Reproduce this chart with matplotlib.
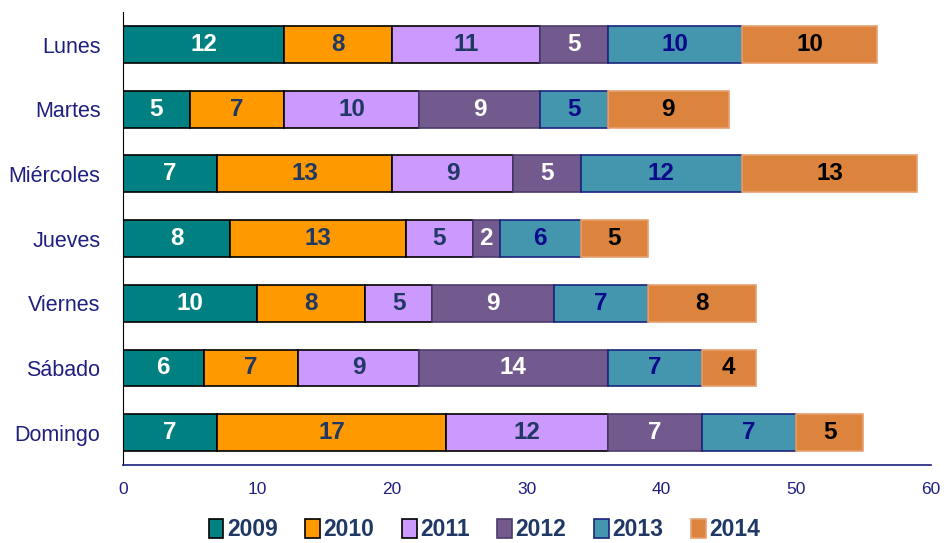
import matplotlib
matplotlib.use("Agg")
import matplotlib.pyplot as plt
import numpy as np

days = ["Lunes", "Martes", "Miércoles", "Jueves", "Viernes", "Sábado", "Domingo"]
years = ["2009", "2010", "2011", "2012", "2013", "2014"]
v2009 = [12, 5, 7, 8, 10, 6, 7]
v2010 = [8, 7, 13, 13, 8, 7, 17]
v2011 = [11, 10, 9, 5, 5, 9, 12]
v2012 = [5, 9, 5, 2, 9, 14, 7]
v2013 = [10, 5, 12, 6, 7, 7, 7]
v2014 = [10, 9, 13, 5, 8, 4, 5]

series = [v2009, v2010, v2011, v2012, v2013, v2014]
colors = ["#008080", "#FF9900", "#CC99FF", "#725A8E", "#4496AF", "#DC843E"]
edges = ["black", "black", "black", "#4B3B6B", "#1A237E", "#E8A070"]
txt_colors = ["white", "#1F3864", "#1F3864", "white", "#0A0A8A", "black"]

navy = "#1F1F80"
plt.rcParams["font.family"] = ["Liberation Sans", "DejaVu Sans"]

fig = plt.figure(figsize=(9.44, 5.43), dpi=100)
ax = fig.add_axes([0.130, 0.1436, 0.856, 0.834])

y = np.arange(len(days))
left = np.zeros(len(days))
for vals, yr, c, ec, tc in zip(series, years, colors, edges, txt_colors):
    bars = ax.barh(y, vals, left=left, height=0.57, color=c, edgecolor=ec,
                   linewidth=1.2, label=yr)
    for b, v in zip(bars, vals):
        ax.text(b.get_x() + b.get_width() / 2, b.get_y() + b.get_height() / 2,
                str(v), ha="center", va="center", color=tc,
                fontsize=17.5, fontweight="bold")
    left += np.array(vals)

ax.set_xlim(0, 60)
ax.set_ylim(6.5, -0.5)
ax.set_yticks(y)
ax.set_yticklabels(days, fontsize=15.5, color=navy)
ax.set_xticks(range(0, 61, 10))
ax.set_xticklabels([str(t) for t in range(0, 61, 10)], fontsize=12.5, color=navy)
ax.tick_params(axis="both", length=0)
ax.tick_params(axis="x", pad=12)
ax.tick_params(axis="y", pad=16)
ax.spines["top"].set_visible(False)
ax.spines["right"].set_visible(False)
ax.spines["left"].set_color("black")
ax.spines["bottom"].set_color(navy)
ax.spines["bottom"].set_linewidth(1.2)

leg = fig.legend(loc="lower center", bbox_to_anchor=(0.513, -0.035), ncol=6,
                 frameon=False, handlelength=0.65, handleheight=0.9,
                 handletextpad=0.15, columnspacing=1.2,
                 prop={"weight": "bold", "size": 16.5})
for t in leg.get_texts():
    t.set_color("#1F3864")

fig.savefig("out.png", dpi=100)
